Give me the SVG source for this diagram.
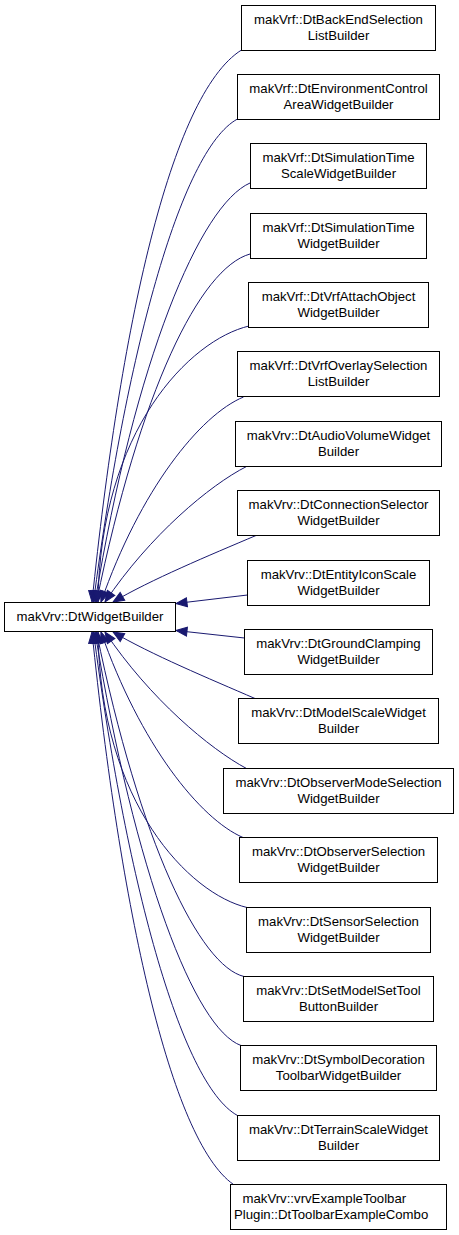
<svg xmlns="http://www.w3.org/2000/svg" width="459" height="1235" viewBox="0 0 459 1235">
<style>
.n rect{fill:#fff;stroke:#000;stroke-width:1}
text{font-family:"Liberation Sans",Arial,sans-serif;font-size:13.2px;fill:#000;text-anchor:middle}
.e path{fill:none;stroke:#191970;stroke-width:1;marker-end:url(#ah)}
</style>
<defs>
<marker id="ah" markerUnits="userSpaceOnUse" markerWidth="12" markerHeight="10" refX="11" refY="4.5" orient="auto" overflow="visible">
<path d="M0,0 L11,4.5 L0,9 z" fill="#191970" stroke="#191970" stroke-width="1"/>
</marker>
</defs>
<rect width="459" height="1235" fill="#fff"/>
<g class="e" id="edges">
<path d="M241.5,50 C170,95 120,330 92,602"/>
<path d="M237.5,119 C180,150 125,360 93.5,602"/>
<path d="M250,183 C200,205 135,360 95,602"/>
<path d="M250,254 C200,268 140,390 96.5,602"/>
<path d="M249,326 C190,340 100,430 98,602"/>
<path d="M243.5,397 C200,415 140,490 101,602"/>
<path d="M246.5,466.5 C210,485 150,535 105,602"/>
<path d="M256,535.5 C210,555 150,580 113,602"/>
<path d="M247.5,595 L176,603.5"/>
<path d="M244.5,638 L176,630.5"/>
<path d="M255,698.5 C210,679 150,654 113,632"/>
<path d="M246.5,768.5 C210,749 150,699 105,632"/>
<path d="M243,837.5 C200,819 140,744 101,632"/>
<path d="M247,907.5 C190,894 100,804 98,632"/>
<path d="M244,976.5 C200,966 140,844 96.5,632"/>
<path d="M241,1045.5 C195,1029 135,874 95,632"/>
<path d="M237.5,1115.5 C180,1084 125,874 93.5,632"/>
<path d="M233.5,1184.5 C170,1140 120,905 92,632"/>
</g>
<g class="n" id="main"><rect x="4.5" y="602.5" width="171" height="29"/><text x="90" y="621">makVrv::DtWidgetBuilder</text></g>
<g class="n" id="n1"><rect x="241.5" y="5.5" width="194" height="45"/><text x="338.5" y="24">makVrf::DtBackEndSelection</text><text x="338.5" y="40">ListBuilder</text></g>
<g class="n" id="n2"><rect x="237.5" y="74.5" width="202" height="45"/><text x="338.5" y="93">makVrf::DtEnvironmentControl</text><text x="338.5" y="109">AreaWidgetBuilder</text></g>
<g class="n" id="n3"><rect x="250.5" y="143.5" width="176" height="45"/><text x="338.5" y="162">makVrf::DtSimulationTime</text><text x="338.5" y="178">ScaleWidgetBuilder</text></g>
<g class="n" id="n4"><rect x="250.5" y="213.5" width="176" height="45"/><text x="338.5" y="232">makVrf::DtSimulationTime</text><text x="338.5" y="248">WidgetBuilder</text></g>
<g class="n" id="n5"><rect x="248.5" y="282.5" width="180" height="45"/><text x="338.5" y="301">makVrf::DtVrfAttachObject</text><text x="338.5" y="317">WidgetBuilder</text></g>
<g class="n" id="n6"><rect x="237.5" y="351.5" width="202" height="45"/><text x="338.5" y="370">makVrf::DtVrfOverlaySelection</text><text x="338.5" y="386">ListBuilder</text></g>
<g class="n" id="n7"><rect x="235.5" y="421.5" width="206" height="45"/><text x="338.5" y="440">makVrv::DtAudioVolumeWidget</text><text x="338.5" y="456">Builder</text></g>
<g class="n" id="n8"><rect x="237.5" y="490.5" width="202" height="45"/><text x="338.5" y="509">makVrv::DtConnectionSelector</text><text x="338.5" y="525">WidgetBuilder</text></g>
<g class="n" id="n9"><rect x="247.5" y="560.5" width="182" height="45"/><text x="338.5" y="579">makVrv::DtEntityIconScale</text><text x="338.5" y="595">WidgetBuilder</text></g>
<g class="n" id="n10"><rect x="244.5" y="629.5" width="188" height="45"/><text x="338.5" y="648">makVrv::DtGroundClamping</text><text x="338.5" y="664">WidgetBuilder</text></g>
<g class="n" id="n11"><rect x="238.5" y="698.5" width="200" height="45"/><text x="338.5" y="717">makVrv::DtModelScaleWidget</text><text x="338.5" y="733">Builder</text></g>
<g class="n" id="n12"><rect x="223.5" y="768.5" width="230" height="45"/><text x="338.5" y="787">makVrv::DtObserverModeSelection</text><text x="338.5" y="803">WidgetBuilder</text></g>
<g class="n" id="n13"><rect x="239.5" y="837.5" width="198" height="45"/><text x="338.5" y="856">makVrv::DtObserverSelection</text><text x="338.5" y="872">WidgetBuilder</text></g>
<g class="n" id="n14"><rect x="246.5" y="907.5" width="184" height="45"/><text x="338.5" y="926">makVrv::DtSensorSelection</text><text x="338.5" y="942">WidgetBuilder</text></g>
<g class="n" id="n15"><rect x="243.5" y="976.5" width="190" height="45"/><text x="338.5" y="995">makVrv::DtSetModelSetTool</text><text x="338.5" y="1011">ButtonBuilder</text></g>
<g class="n" id="n16"><rect x="240.5" y="1045.5" width="196" height="45"/><text x="338.5" y="1064">makVrv::DtSymbolDecoration</text><text x="338.5" y="1080">ToolbarWidgetBuilder</text></g>
<g class="n" id="n17"><rect x="237.5" y="1115.5" width="202" height="45"/><text x="338.5" y="1134">makVrv::DtTerrainScaleWidget</text><text x="338.5" y="1150">Builder</text></g>
<g class="n" id="n18"><rect x="230.5" y="1184.5" width="216" height="45"/><text x="242.5" y="1203" style="text-anchor:start">makVrv::vrvExampleToolbar</text><text x="234" y="1219" style="text-anchor:start">Plugin::DtToolbarExampleCombo</text></g>
</svg>
